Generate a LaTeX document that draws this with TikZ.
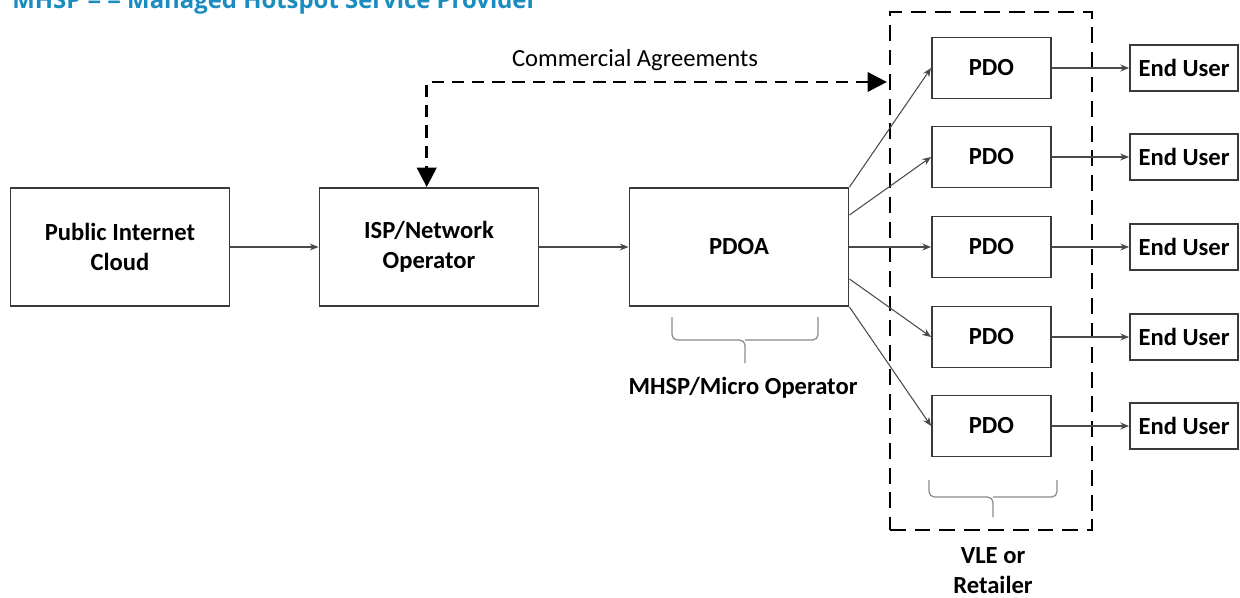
\documentclass[tikz,border=0pt]{standalone}
\usepackage{fontspec}
\setmainfont{Carlito}
\newfontfamily\headfont{Open Sans}
\usetikzlibrary{arrows.meta,calc}
\definecolor{boxline}{HTML}{3A3A3A}
\definecolor{thinline}{HTML}{4A4A4A}
\definecolor{bracegray}{HTML}{8A8A8A}
\definecolor{headblue}{HTML}{1A8CC0}

\begin{document}
\begin{tikzpicture}[x=0.02cm,y=-0.02cm,
  blk/.style={draw=boxline,line width=1.1pt,fill=white,
    font=\fontsize{14}{17}\selectfont\bfseries,align=center,inner sep=0pt},
  bigbox/.style={blk,minimum width=4.38cm,minimum height=2.36cm},
  pdobox/.style={blk,minimum width=2.38cm,minimum height=1.22cm},
  userbox/.style={blk,minimum width=2.16cm,minimum height=0.92cm},
  link/.style={draw=thinline,line width=0.6pt,-{Stealth[length=5pt,width=4pt]}},
  agree/.style={draw=black,line width=1.6pt,dash pattern=on 7pt off 4.5pt,
    {Triangle[length=11pt,width=11pt]}-{Triangle[length=11pt,width=11pt]}},
  region/.style={draw=black,line width=1.6pt,dash pattern=on 9pt off 5pt,
    minimum width=4.04cm,minimum height=10.36cm,inner sep=0pt},
  bracket/.style={draw=bracegray,line width=0.7pt,rounded corners=3pt},
  lbl/.style={font=\fontsize{14}{17}\selectfont\bfseries,align=center,inner sep=0pt},
]
\useasboundingbox (0,0) rectangle (1240,598);

% heading line, partly above the page edge
\node[anchor=base west,inner sep=0pt,text=headblue,
  font=\headfont\bfseries\fontsize{13.6}{16}\selectfont] (head) at (12,9)
  {MHSP = = Managed Hotspot Service Provider};

% dashed region holding the PDO column
\node[region] (vle) at (991,271) {};

% main chain
\node[bigbox] (pub)  at (120,247) {Public Internet\\Cloud};
\node[bigbox] (isp)  at (429,247) {ISP/Network\\Operator};
\node[bigbox] (pdoa) at (739,247) {PDOA};

% PDO column and end users
\foreach \i/\y in {1/68,2/157,3/247,4/337,5/426}{
  \node[pdobox]  (pdo\i)  at (991.5,\y) {PDO};
  \node[userbox] (user\i) at (1184,\y) {End User};
  \draw[link] (pdo\i.east) -- (user\i.west);
}

\draw[link] (pub.east) -- (isp.west);
\draw[link] (isp.east) -- (pdoa.west);

% fan-out from PDOA
\draw[link] (pdoa.north east) -- (pdo1.west);
\draw[link] ([yshift=0.64cm]pdoa.east) -- (pdo2.west);
\draw[link] (pdoa.east) -- (pdo3.west);
\draw[link] ([yshift=-0.64cm]pdoa.east) -- (pdo4.west);
\draw[link] (pdoa.south east) -- (pdo5.west);

% commercial agreements link
\coordinate (cay) at (0,82);
\draw[agree] ([xshift=-1pt]vle.west |- cay) -| ([xshift=-1.3pt]isp.north);
\node[font=\fontsize{14}{17}\selectfont,inner sep=0pt] (ca) at (635,60) {Commercial Agreements};

% brackets with captions
\draw[bracket] (672,317) |- (745,340) -- (745,363);
\draw[bracket] (818,317) |- (745,340);
\node[lbl] (mhsp) at (743,388) {MHSP/Micro Operator};

\draw[bracket] (929,480) |- (993,497) -- (993,517);
\draw[bracket] (1057,480) |- (993,497);
\node[lbl] (ret) at (993,571) {VLE or\\Retailer};
\end{tikzpicture}
\end{document}
